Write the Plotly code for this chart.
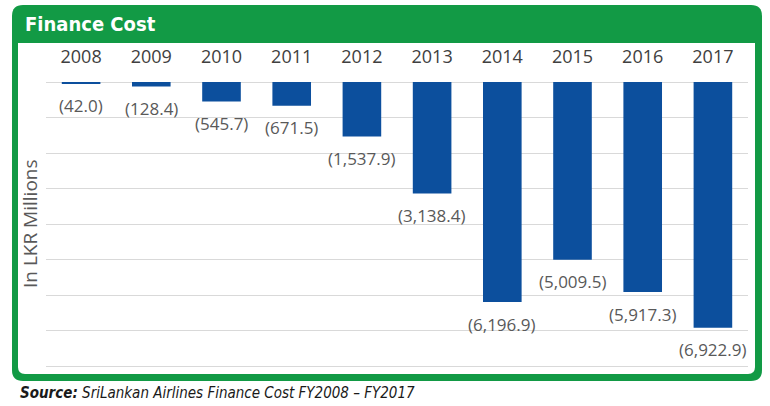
import plotly.graph_objects as go

years = ["2008", "2009", "2010", "2011", "2012", "2013", "2014", "2015", "2016", "2017"]
finance_cost = [-42.0, -128.4, -545.7, -671.5, -1537.9, -3138.4, -6196.9, -5009.5, -5917.3, -6922.9]
labels = ["(42.0)", "(128.4)", "(545.7)", "(671.5)", "(1,537.9)", "(3,138.4)",
          "(6,196.9)", "(5,009.5)", "(5,917.3)", "(6,922.9)"]

W, H = 770, 406
L, R, T, B = 46, 748, 78, 370
GREEN = "#129a45"
BLUE = "#0c4f9d"
NARROW = "Liberation Sans Narrow, DejaVu Sans Condensed, Arial Narrow, sans-serif"


def px(x):
    return (x - L) / (R - L)


def py(y):
    return (B - y) / (B - T)


def rrect(x0, y0, x1, y1, rt, rb):
    pts = []
    pts.append(f"M{px(x0 + rt)},{py(y0)}")
    pts.append(f"L{px(x1 - rt)},{py(y0)}")
    pts.append(f"Q{px(x1)},{py(y0)} {px(x1)},{py(y0 + rt)}")
    pts.append(f"L{px(x1)},{py(y1 - rb)}")
    pts.append(f"Q{px(x1)},{py(y1)} {px(x1 - rb)},{py(y1)}")
    pts.append(f"L{px(x0 + rb)},{py(y1)}")
    pts.append(f"Q{px(x0)},{py(y1)} {px(x0)},{py(y1 - rb)}")
    pts.append(f"L{px(x0)},{py(y0 + rt)}")
    pts.append(f"Q{px(x0)},{py(y0)} {px(x0 + rt)},{py(y0)}")
    pts.append("Z")
    return " ".join(pts)


fig = go.Figure()
fig.add_trace(go.Bar(x=years, y=finance_cost, marker=dict(color=BLUE, line=dict(width=0)),
                     hoverinfo="skip"))

annotations = []
for i, (v, lab) in enumerate(zip(finance_cost, labels)):
    annotations.append(dict(x=i, y=v, xref="x", yref="y", text=lab, showarrow=False,
                            yshift=-22, font=dict(family="Open Sans", size=17, color="#595959")))

annotations.append(dict(x=px(23), y=py(24), xref="paper", yref="paper", xanchor="left",
                        yanchor="middle", showarrow=False, text="<b>Finance Cost</b>",
                        font=dict(family=NARROW, size=20, color="white")))
annotations.append(dict(x=px(30), y=py(224), xref="paper", yref="paper", xanchor="center",
                        yanchor="middle", showarrow=False, text="In LKR Millions", textangle=-90,
                        font=dict(family="Open Sans", size=19, color="#595959")))
annotations.append(dict(x=px(18), y=py(393), xref="paper", yref="paper", xanchor="left",
                        yanchor="middle", showarrow=False,
                        text="<b><i>Source:</i></b><i> SriLankan Airlines Finance Cost FY2008 – FY2017</i>",
                        font=dict(family=NARROW, size=15, color="#1a1a1a")))

shapes = [
    dict(type="path", xref="paper", yref="paper", path=rrect(12, 5, 762, 381, 11, 11),
         fillcolor=GREEN, line=dict(width=0), layer="below"),
    dict(type="path", xref="paper", yref="paper", path=rrect(18, 43, 755, 374, 0, 7),
         fillcolor="white", line=dict(width=0), layer="below"),
]

fig.update_layout(
    width=W, height=H,
    margin=dict(l=L, r=W - R, t=T, b=H - B, autoexpand=False),
    paper_bgcolor="white",
    plot_bgcolor="rgba(0,0,0,0)",
    showlegend=False,
    bargap=0.45,
    annotations=annotations,
    shapes=shapes,
    xaxis=dict(type="category", range=[-0.5, len(years) - 0.5], side="top", showgrid=False,
               showline=False, ticks="", zeroline=False, automargin=False,
               tickfont=dict(family="Open Sans", size=18, color="#404040"),
               ticklabelstandoff=10),
    yaxis=dict(range=[-8112, 113], dtick=1000, tick0=0, showgrid=True, gridcolor="#d9d9d9",
               gridwidth=1, zeroline=True, zerolinecolor="#d9d9d9", zerolinewidth=1,
               showticklabels=False, ticks="", showline=False, automargin=False),
)

fig.write_html("out.html", config={"displayModeBar": False},
               post_script="document.body.style.margin='0';document.body.style.overflow='hidden';")
